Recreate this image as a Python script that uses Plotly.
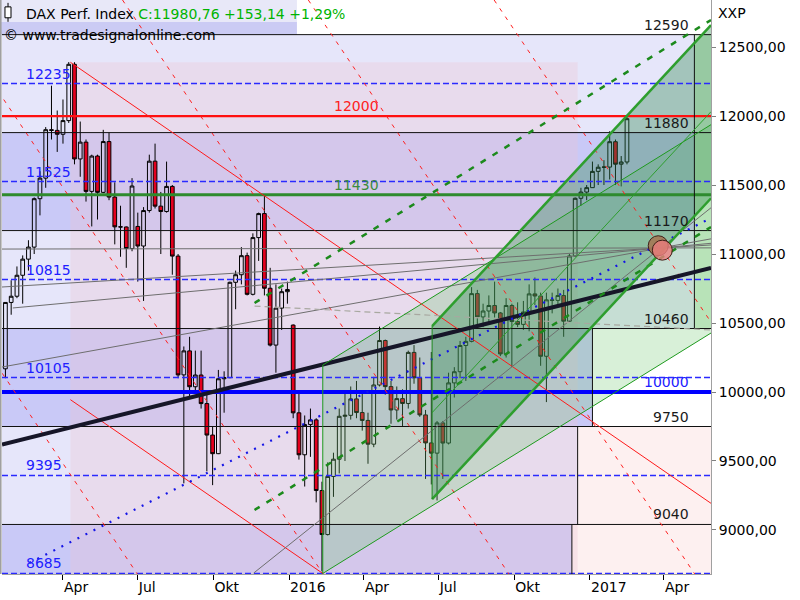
import plotly.graph_objects as go
import pandas as pd

# ---------------- data (weekly candles) ----------------
week_start = pd.date_range("2015-01-19", periods=109, freq="7D")

opens = [
    # 2015
    10168, 10649, 10694, 10846, 10963, 11050, 11401, 11550, 11901, 11896,
    11868, 11967, 12375, 11689, 11811, 11454, 11710, 11447, 11815, 11413,
    11197, 11196, 11040, 11200, 11058, 11315, 11673, 11347, 11308, 11490,
    10985, 10124, 10298, 10038, 10123, 9916, 9688, 9553, 10096, 10104,
    10795, 10850, 10988, 10708, 11119, 11293, 10752, 10340, 10608, 10727,
    # 2016
    10485, 9849, 9545, 9764, 9798, 9286, 8967, 9388, 9513, 9824,
    9831, 9950, 9851, 9794, 9622, 10051, 10373, 10039, 9870, 9952,
    9917, 10287, 10103, 9834, 9631, 9557, 9776, 9630, 10066, 10147,
    10337, 10367, 10713, 10544, 10587, 10627, 10573, 10276, 10627, 10511,
    10490, 10580, 10711, 10696, 10259, 10668, 10664, 10699, 10513, 10986,
    11404, 11449,
    # 2017
    11481, 11599, 11629, 11630, 11814, 11651, 11667]
highs = [
    10650, 10810, 10910, 10990, 11100, 11410, 11600, 11920, 12220, 12040,
    12120, 12391, 12390, 11960, 11830, 11720, 11720, 11900, 11880, 11520,
    11350, 11200, 11550, 11300, 11340, 11720, 11800, 11450, 11670, 11500,
    11000, 10330, 10400, 10300, 10300, 10010, 9750, 10160, 10150, 10800,
    10880, 11050, 11010, 11150, 11300, 11430, 10900, 10780, 10750, 10800,
    10490, 10000, 9830, 9880, 9810, 9350, 9490, 9560, 9880, 9990,
    10040, 10080, 10010, 9850, 10110, 10474, 10380, 10080, 10040, 10020,
    10300, 10340, 10250, 9870, 10290, 9790, 9790, 10140, 10180, 10370,
    10400, 10760, 10740, 10640, 10700, 10800, 10580, 10680, 10640, 10650,
    10660, 10780, 10830, 10720, 10720, 10720, 10750, 10740, 11000, 11410,
    11480, 11500,
    11670, 11650, 11680, 11890, 11830, 11710, 12000]
lows = [
    10100, 10560, 10680, 10640, 10880, 11000, 11280, 11480, 11830, 11740,
    11800, 11950, 11650, 11560, 11380, 11200, 11250, 11440, 11390, 11070,
    10980, 10900, 11020, 10800, 10660, 11300, 11330, 11000, 11300, 10850,
    10100, 9338, 9950, 10000, 9880, 9425, 9325, 9550, 9850, 10100,
    10600, 10780, 10700, 10700, 10950, 10700, 10330, 10140, 10450, 10640,
    9810, 9510, 9315, 9530, 9200, 8700, 8960, 9240, 9410, 9500,
    9800, 9810, 9720, 9480, 9600, 10040, 9980, 9770, 9800, 9750,
    9880, 10060, 9820, 9370, 9330, 9214, 9370, 9620, 9960, 10100,
    10080, 10360, 10480, 10470, 10490, 10540, 10260, 10250, 10180, 10470,
    10450, 10440, 10630, 10190, 9927, 10570, 10630, 10400, 10500, 10980,
    11350, 11390,
    11480, 11500, 11500, 11540, 11500, 11490, 11650]
closes = [
    10649, 10694, 10846, 10963, 11050, 11401, 11550, 11901, 11896, 11868,
    11967, 12375, 11689, 11811, 11454, 11710, 11447, 11815, 11413, 11197,
    11196, 11040, 11493, 11058, 11315, 11673, 11347, 11308, 11490, 10985,
    10124, 10298, 10038, 10123, 9916, 9688, 9553, 10096, 10104, 10795,
    10850, 10988, 10708, 11119, 11293, 10752, 10340, 10608, 10727, 10743,
    9849, 9545, 9764, 9798, 9286, 8967, 9388, 9513, 9824, 9831,
    9950, 9851, 9794, 9622, 10051, 10373, 10039, 9870, 9952, 9917,
    10287, 10103, 9834, 9631, 9557, 9776, 9630, 10066, 10147, 10337,
    10367, 10713, 10544, 10587, 10627, 10573, 10276, 10627, 10511, 10490,
    10580, 10711, 10696, 10259, 10668, 10664, 10699, 10513, 10986, 11404,
    11449, 11481,
    11599, 11629, 11630, 11814, 11651, 11667, 11980.76]

last_close = 11980.76
last_change = 153.14
last_pct = 1.29

black_levels = [12590, 11880, 11170, 10460, 9750, 9040]
dashed_levels = [12235, 11525, 10815, 10105, 9395, 8685]
red_level = 12000
green_level = 11430
blue_level = 10000

x_tickvals = ["2015-04-01", "2015-07-01", "2015-10-01", "2016-01-01", "2016-04-01",
              "2016-07-01", "2016-10-01", "2017-01-01", "2017-04-01"]
x_ticktext = ["Apr", "Jul", "Okt", "2016", "Apr", "Jul", "Okt", "2017", "Apr"]
y_tickvals = [9000, 9500, 10000, 10500, 11000, 11500, 12000, 12500]

# chart geometry in data units
X0, X1 = pd.Timestamp("2015-01-16 20:00"), pd.Timestamp("2017-05-28 05:00")
Y0, Y1 = 8681, 12841

peak = ("2015-04-10", 12390)
nov_high = ("2015-11-30", 11430)
feb_low = ("2016-02-11", 8685)

band_tops = [12590, 11880, 11170, 10460, 9750, 9040]
band_bottoms = [11880, 11170, 10460, 9750, 9040, Y0]
band_ends = ["2017-05-08", "2017-05-08", "2017-05-08", "2017-01-04", "2016-12-17", "2016-12-10"]
pink_box_end = "2016-12-17"

red_dash_anchor_dates = ["2015-06-30", "2016-02-11", "2016-09-24", "2017-05-08", "2017-12-20"]
red_dash_anchor_price = 8685
red_dash_slope = -8.85  # points per day

trend_dates = [X0, X1]
trend_prices = [9620, 10900]
blue_dot_dates = ["2015-02-19", X1]
blue_dot_prices = [8761, 11261]
green_dash_start = "2015-11-20"
green_dash_upper = [10645, 12696]
green_dash_lower = [9145, 11196]

light_ch_start = "2016-02-11"
light_ch_bottom, light_ch_top, light_ch_slope = 8685, 10195, 3.69
inner_ch_start = "2016-06-23"
inner_ch_bottom, inner_ch_top, inner_ch_slope = 9223, 10478, 6.43

fan_start_dates = [X0, X0, "2015-01-30", X0, "2015-11-19"]
fan_start_prices = [11036, 10761, 10609, 10181, 8688]
fan_focus = ("2017-03-28", 11044)
gray_dash_dates = ["2015-11-20", X1]
gray_dash_prices = [10623, 10450]

circle_centers = [("2017-03-25", 11060), ("2017-03-30", 11028)]


def ts(v):
    return pd.Timestamp(v)


def ddays(a, b):
    return (ts(b) - ts(a)) / pd.Timedelta(days=1)


def line(x0, y0, x1, y1, color, width=1, dash=None, layer="above"):
    d = dict(type="line", xref="x", yref="y", x0=ts(x0), y0=y0, x1=ts(x1), y1=y1,
             line=dict(color=color, width=width), layer=layer)
    if dash:
        d["line"]["dash"] = dash
    return d


def rect(x0, y0, x1, y1, fill, layer="below"):
    return dict(type="rect", xref="x", yref="y", x0=ts(x0), y0=y0, x1=ts(x1), y1=y1,
                fillcolor=fill, line=dict(width=0), layer=layer)


LIGHT = "#e6e6fa"
SAT = "#c9c9f7"
band_colors = [LIGHT, SAT, LIGHT, SAT, LIGHT, SAT]

shapes = []
# background bands
for top, bot, col, end in zip(band_tops, band_bottoms, band_colors, band_ends):
    shapes.append(rect(X0, bot, end, top, col))
shapes.append(rect(band_ends[4], band_bottoms[4], X1, band_tops[4], "#fdf0f0"))
shapes.append(rect(band_ends[5], band_bottoms[5], X1, band_tops[5], "#fdf0f0"))
shapes.append(rect(peak[0], Y0, pink_box_end, peak[1], "rgba(237,197,210,0.32)"))
shapes.append(rect(band_ends[0], band_tops[3], X1, band_tops[0], "rgba(111,200,111,0.30)"))

# header boxes (paper coordinates)
shapes.append(dict(type="rect", xref="paper", yref="paper", x0=-0.003, x1=0.416, y0=0.9617, y1=1.0,
                   fillcolor="#e8e8f8", line=dict(width=0), layer="below"))
shapes.append(dict(type="rect", xref="paper", yref="paper", x0=-0.003, x1=0.416, y0=0.939, y1=0.9617,
                   fillcolor="#cbcbf4", line=dict(width=0), layer="below"))
# candle icon in header
shapes.append(dict(type="line", xref="paper", yref="paper", x0=0.0085, x1=0.0085, y0=0.962, y1=0.995,
                   line=dict(color="black", width=1), layer="above"))
shapes.append(dict(type="rect", xref="paper", yref="paper", x0=0.0042, x1=0.0127, y0=0.969, y1=0.988,
                   fillcolor="white", line=dict(color="black", width=1), layer="above"))

# horizontal levels
for lv in black_levels:
    shapes.append(line(X0, lv, X1, lv, "#101010", 1))
for lv in dashed_levels:
    shapes.append(line(X0, lv, X1, lv, "#2a2aff", 1.5, "6px,3px"))
shapes.append(line(X0, red_level, X1, red_level, "#ff1010", 2.2))
shapes.append(line(X0, green_level, X1, green_level, "#2e8b2e", 3))
shapes.append(line(X0, blue_level, X1, blue_level, "#0000ff", 4))

# vertical box edges
shapes.append(line(band_ends[3], band_tops[3], band_ends[3], band_bottoms[3], "#101010", 1))
shapes.append(line(band_ends[4], band_tops[4], band_ends[4], band_bottoms[4], "#101010", 1))
shapes.append(line(band_ends[5], band_tops[5], band_ends[5], Y0, "#101010", 1))
shapes.append(line(band_ends[0], band_tops[0], band_ends[0], band_tops[3], "#101010", 1))

# red trend lines
r_slope = (nov_high[1] - peak[1]) / ddays(peak[0], nov_high[0])
shapes.append(line(peak[0], peak[1], X1, peak[1] + r_slope * ddays(peak[0], X1), "#ff1a1a", 1))
shapes.append(line(peak[0], feb_low[1] + r_slope * ddays(feb_low[0], peak[0]),
                   feb_low[0], feb_low[1], "#ff1a1a", 1))
for ad in red_dash_anchor_dates:
    d_top = (Y1 - red_dash_anchor_price) / red_dash_slope
    d_bot = (Y0 - red_dash_anchor_price) / red_dash_slope
    shapes.append(line(ts(ad) + pd.Timedelta(days=d_top), Y1, ts(ad) + pd.Timedelta(days=d_bot), Y0,
                       "#ff2020", 1, "4px,6px"))

# gray fan lines
fx, fy = fan_focus
for sd, sp in zip(fan_start_dates, fan_start_prices):
    slope = (fy - sp) / ddays(sd, fx)
    shapes.append(line(sd, sp, X1, sp + slope * ddays(sd, X1), "#6e6e6e", 1))
shapes.append(line(gray_dash_dates[0], gray_dash_prices[0], gray_dash_dates[1], gray_dash_prices[1],
                   "#a8a8a0", 1.2, "6px,4px"))

# thick black trend
shapes.append(line(trend_dates[0], trend_prices[0], trend_dates[1], trend_prices[1], "#161628", 4))
# blue dotted
shapes.append(line(blue_dot_dates[0], blue_dot_prices[0], blue_dot_dates[1], blue_dot_prices[1],
                   "#1414e6", 2.2, "2px,7px"))
# green dashed
shapes.append(line(green_dash_start, green_dash_upper[0], X1, green_dash_upper[1], "#1c8a1c", 2.5, "6px,8px"))
shapes.append(line(green_dash_start, green_dash_lower[0], X1, green_dash_lower[1], "#1c8a1c", 2.5, "6px,8px"))

# channels
lspan = ddays(light_ch_start, X1)
shapes.append(line(light_ch_start, light_ch_top, X1, light_ch_top + light_ch_slope * lspan, "#1e9a1e", 1))
shapes.append(line(light_ch_start, light_ch_bottom, X1, light_ch_bottom + light_ch_slope * lspan, "#1e9a1e", 1))
shapes.append(line(light_ch_start, light_ch_bottom, light_ch_start, light_ch_top, "#1e9a1e", 1))
ispan = ddays(inner_ch_start, X1)
inner_mid = (inner_ch_top + inner_ch_bottom) / 2
shapes.append(line(inner_ch_start, inner_ch_top, X1, inner_ch_top + inner_ch_slope * ispan, "#2e9e2e", 2.5))
shapes.append(line(inner_ch_start, inner_ch_bottom, X1, inner_ch_bottom + inner_ch_slope * ispan, "#2e9e2e", 2.5))
shapes.append(line(inner_ch_start, inner_mid, X1, inner_mid + inner_ch_slope * ispan, "#2e9e2e", 1))
shapes.append(line(inner_ch_start, inner_ch_bottom, inner_ch_start, inner_ch_top, "#1e8a1e", 1))

# circles (pixel-sized around data anchors)
for (cd, cp), col in zip(circle_centers, ["rgba(165,115,80,0.85)", "rgba(235,125,125,0.8)"]):
    shapes.append(dict(type="circle", xref="x", yref="y", xsizemode="pixel", ysizemode="pixel",
                       xanchor=ts(cd), yanchor=cp, x0=-10, x1=10, y0=-10, y1=10,
                       fillcolor=col, line=dict(color="#402018", width=1), layer="above"))

# plot left border
shapes.append(dict(type="line", xref="paper", yref="paper", x0=-0.002, x1=-0.002, y0=0, y1=1,
                   line=dict(color="#a0a0a0", width=2), layer="above"))

fig = go.Figure()
fig.add_trace(go.Candlestick(
    x=week_start + pd.Timedelta(days=2), open=opens, high=highs, low=lows, close=closes,
    increasing=dict(line=dict(color="#000000", width=1), fillcolor="rgba(255,255,255,0)"),
    decreasing=dict(line=dict(color="#000000", width=1), fillcolor="#e4001e"),
    whiskerwidth=0, showlegend=False, hoverinfo="skip"))

# channel fills (above candles)
lx = [ts(light_ch_start), X1, X1, ts(light_ch_start), ts(light_ch_start)]
ly = [light_ch_bottom, light_ch_bottom + light_ch_slope * lspan, light_ch_top + light_ch_slope * lspan,
      light_ch_top, light_ch_bottom]
fig.add_trace(go.Scatter(x=lx, y=ly, fill="toself", fillcolor="rgba(111,200,111,0.27)",
                         line=dict(width=0), mode="lines", showlegend=False, hoverinfo="skip"))
ix = [ts(inner_ch_start), X1, X1, ts(inner_ch_start), ts(inner_ch_start)]
iy = [inner_ch_bottom, inner_ch_bottom + inner_ch_slope * ispan, inner_ch_top + inner_ch_slope * ispan,
      inner_ch_top, inner_ch_bottom]
fig.add_trace(go.Scatter(x=ix, y=iy, fill="toself", fillcolor="rgba(45,135,75,0.36)",
                         line=dict(width=0), mode="lines", showlegend=False, hoverinfo="skip"))

FONT = "DejaVu Sans"
ann = []
for lv in dashed_levels:
    ann.append(dict(x=0.031, xref="paper", y=lv, yref="y", xanchor="left", yanchor="bottom",
                    text=str(lv), showarrow=False, font=dict(family=FONT, size=14, color="#2020ff")))
for lv in black_levels:
    ann.append(dict(x=0.972, xref="paper", y=lv, yref="y", xanchor="right", yanchor="bottom",
                    text=str(lv), showarrow=False, font=dict(family=FONT, size=14, color="#1a1a1a")))
ann.append(dict(x=0.5, xref="paper", y=red_level, yref="y", xanchor="center", yanchor="bottom",
                text=str(red_level), showarrow=False, font=dict(family=FONT, size=14, color="#ff2020")))
ann.append(dict(x=0.4993, xref="paper", y=green_level, yref="y", xanchor="center", yanchor="bottom",
                text=str(green_level), showarrow=False, font=dict(family=FONT, size=14, color="#3c8c3c")))
ann.append(dict(x=0.972, xref="paper", y=blue_level, yref="y", xanchor="right", yanchor="bottom",
                text=str(blue_level), showarrow=False, font=dict(family=FONT, size=14, color="#2020ff")))

hdr_green = "C:{} +{} +{}%".format(f"{last_close:.2f}".replace(".", ","),
                                   f"{last_change:.2f}".replace(".", ","),
                                   f"{last_pct:.2f}".replace(".", ","))
ann.append(dict(x=0.031, xref="paper", y=0.9756, yref="paper", xanchor="left", yanchor="middle",
                text="DAX Perf. Index <span style='color:#00b400'>" + hdr_green + "</span>",
                showarrow=False, font=dict(family=FONT, size=14, color="black")))
ann.append(dict(x=0.0, xref="paper", y=0.939, yref="paper", xanchor="left", yanchor="middle",
                text="© www.tradesignalonline.com", showarrow=False,
                font=dict(family=FONT, size=14, color="black")))
ann.append(dict(x=1.0, xref="paper", y=1.0, yref="paper", xanchor="left", yanchor="top", xshift=5, yshift=-3,
                text="XXP", showarrow=False, font=dict(family=FONT, size=14, color="black")))

fig.update_layout(
    width=800, height=600,
    margin=dict(l=2, r=89, t=0, b=26),
    paper_bgcolor="white", plot_bgcolor="white",
    separators=",.",
    boxgap=0.08,
    shapes=shapes, annotations=ann,
    showlegend=False,
    font=dict(family=FONT, size=14, color="black"),
    xaxis=dict(type="date", range=[X0, X1], rangeslider=dict(visible=False),
               tickvals=x_tickvals, ticktext=x_ticktext, ticks="outside", ticklen=5,
               tickcolor="#000000", showgrid=False, zeroline=False, showline=True,
               linecolor="#a0a0a0", linewidth=1, ticklabelposition="outside right",
               tickfont=dict(family=FONT, size=14, color="black")),
    yaxis=dict(range=[Y0, Y1], side="right", tickvals=y_tickvals, tickformat=".2f",
               ticks="outside", ticklen=4, tickcolor="#808080", showgrid=False, zeroline=False,
               showline=True, linecolor="#a0a0a0", linewidth=1,
               tickfont=dict(family=FONT, size=14, color="black")),
)

fig.write_html("out.html", config={"displayModeBar": False},
               post_script="document.body.style.margin='0px';")
